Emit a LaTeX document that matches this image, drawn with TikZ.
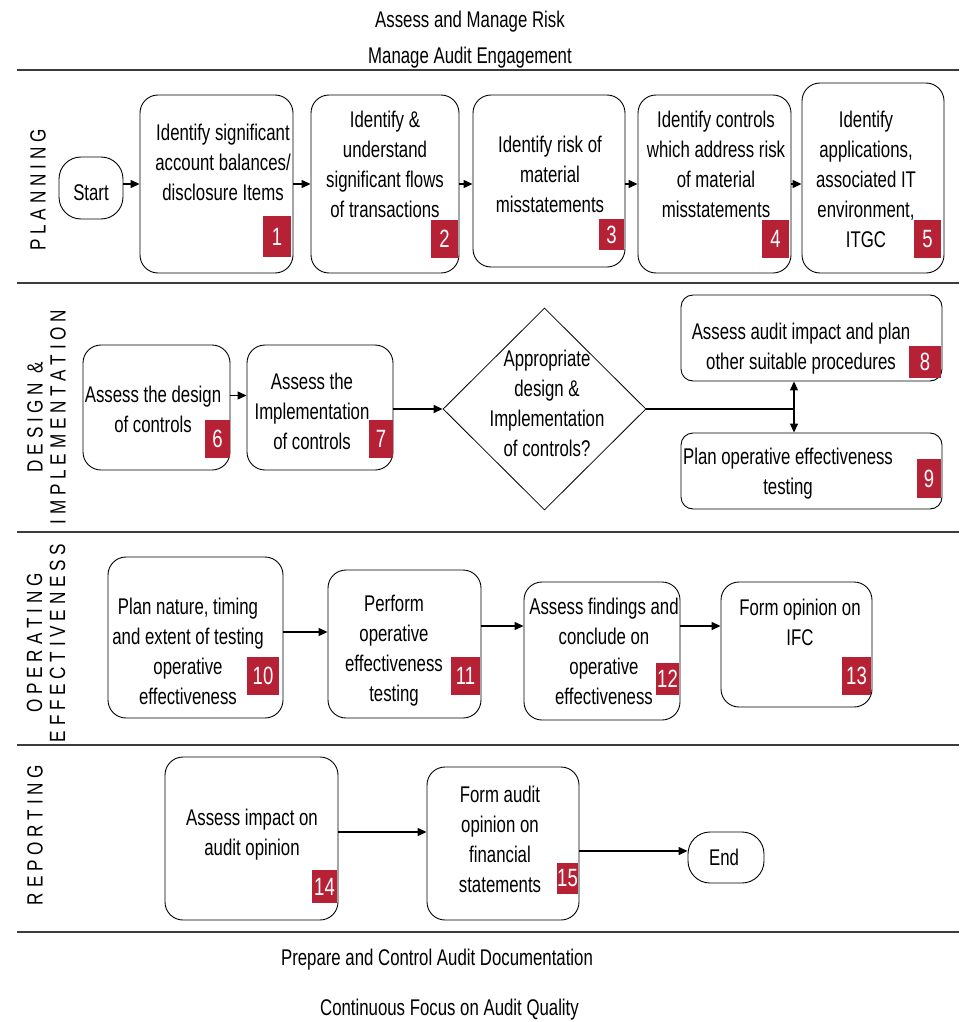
\documentclass[tikz,border=0pt]{standalone}
\usepackage{fontspec}
\setmainfont{Liberation Sans}[FakeStretch=0.74]
\newfontfamily\lanefont{Liberation Sans}[FakeStretch=0.78]
\usetikzlibrary{arrows.meta,shapes.geometric}
\definecolor{badgered}{RGB}{183,33,54}
\definecolor{sepgray}{RGB}{60,60,60}
\begin{document}
\begin{tikzpicture}[x=1pt,y=-1pt,
  box/.style={draw=black, line width=0.9pt, rounded corners=18pt, inner sep=0pt},
  smallbox/.style={box, rounded corners=12pt},
  term/.style={box, rounded corners=22pt},
  badge/.style={fill=badgered, text=white, inner sep=0pt, font=\fontsize{25}{25}\selectfont},
  txt/.style={align=center, inner sep=0pt, font=\fontsize{22.7}{30}\selectfont},
  lane/.style={rotate=90, align=center, inner sep=0pt, font=\lanefont\fontsize{22}{23}\selectfont},
  arr/.style={line width=1.3pt, -{Triangle[length=9pt,width=8pt]}},
  conn/.style={line width=1.1pt},
  sep/.style={draw=sepgray, line width=1.8pt}]
\useasboundingbox (0,0) rectangle (959,1022);

% headings
\node[txt] (h1) at (470,22) {Assess and Manage Risk};
\node[txt] (h2) at (470,58) {Manage Audit Engagement};
\node[txt] (f1) at (437,960) {Prepare and Control Audit Documentation};
\node[txt] (f2) at (449.5,1010) {Continuous Focus on Audit Quality};

% separators
\draw[sep] (17,70) -- (959,70);
\draw[sep] (17,283) -- (959,283);
\draw[sep] (17,532) -- (959,532);
\draw[sep] (17,745) -- (959,745);
\draw[sep] (17,932) -- (959,932);

% lane labels
\node[lane] (lp) at (38,190) {P L A N N I N G};
\node[lane] (ld) at (46.5,417) {D E S I G N~~\&\\I M P L E M E N T A T I O N};
\node[lane] (lo) at (46,643) {O P E R A T I N G\\E F F E C T I V E N E S S};
\node[lane] (lr) at (35,835) {R E P O R T I N G};

% planning
\node[term, minimum width=64pt, minimum height=62pt] (s) at (91,188) {};
\node[txt] (ts) at (91,193) {Start};
\node[box, minimum width=153pt, minimum height=178pt] (b1) at (216.5,184) {};
\node[box, minimum width=148pt, minimum height=178pt] (b2) at (385,184) {};
\node[box, minimum width=152pt, minimum height=172pt] (b3) at (549,181) {};
\node[box, minimum width=153pt, minimum height=178pt] (b4) at (714.5,184) {};
\node[box, minimum width=142pt, minimum height=190pt] (b5) at (873,178) {};
\node[txt] (t1) at (223,162) {Identify significant\\account balances/\\disclosure Items};
\node[txt] (t2) at (385,164) {Identify \&\\understand\\significant flows\\of transactions};
\node[txt] (t3) at (550,174) {Identify risk of\\material\\misstatements};
\node[txt] (t4) at (716,164) {Identify controls\\which address risk\\of material\\misstatements};
\node[txt] (t5) at (866,179) {Identify\\applications,\\associated IT\\environment,\\ITGC};
\node[badge, minimum width=28pt, minimum height=41pt] (n1) at (277,236.5) {1};
\node[badge, minimum width=27pt, minimum height=38pt] (n2) at (444.5,239) {2};
\node[badge, minimum width=25pt, minimum height=31pt] (n3) at (611.5,234.5) {3};
\node[badge, minimum width=27pt, minimum height=38pt] (n4) at (775.5,239) {4};
\node[badge, minimum width=27pt, minimum height=38pt] (n5) at (927.5,239) {5};
\draw[arr] (s.east |- b1.west) -- (b1.west);
\draw[arr] (b1.east) -- (b2.west);
\draw[arr] (b2.east) -- (b2.east -| b3.west);
\draw[arr] (b3.east |- b4.west) -- (b4.west);
\draw[arr] (b4.east) -- (b4.east -| b5.west);

% design & implementation
\node[box, minimum width=147pt, minimum height=125pt] (b6) at (156.5,407.5) {};
\node[box, minimum width=146pt, minimum height=125pt] (b7) at (320,407.5) {};
\node[diamond, draw=black, line width=0.8pt, aspect=1, inner sep=0pt,
      minimum width=203pt, minimum height=202pt] (d) at (544.5,409) {};
\node[smallbox, minimum width=261pt, minimum height=86pt] (b8) at (811.5,338) {};
\node[smallbox, minimum width=261pt, minimum height=76pt] (b9) at (811.5,471) {};
\node[txt] (t6) at (153,409) {Assess the design\\of controls};
\node[txt] (t7) at (312,411) {Assess the\\Implementation\\of controls};
\node[txt] (td) at (547,403.5) {Appropriate\\design \&\\Implementation\\of controls?};
\node[txt] (t8) at (801,348.5) {Assess audit impact and plan\\other suitable procedures};
\node[txt] (t9) at (788,474) {Plan operative effectiveness\\testing};
\node[badge, minimum width=25pt, minimum height=38pt] (n6) at (217.5,439) {6};
\node[badge, minimum width=24pt, minimum height=38pt] (n7) at (381,439) {7};
\node[badge, minimum width=32pt, minimum height=32pt] (n8) at (925,362) {8};
\node[badge, minimum width=24pt, minimum height=39pt] (n9) at (929,478.5) {9};
\coordinate (j) at (794,409);
\draw[arr] ([yshift=12pt]b6.east) -- ([yshift=12pt]b7.west);
\draw[arr] (b7.east |- d.west) -- (d.west);
\draw[conn] (d.east) -- (j);
\draw[arr] (j) -- (j |- b8.south);
\draw[arr] (j) -- (j |- b9.north);

% operating effectiveness
\node[box, minimum width=175pt, minimum height=161pt] (b10) at (195.5,637.5) {};
\node[box, minimum width=153pt, minimum height=148pt] (b11) at (404.5,644) {};
\node[box, minimum width=156pt, minimum height=138pt] (b12) at (602,651) {};
\node[box, minimum width=151pt, minimum height=125pt] (b13) at (796.5,644.5) {};
\node[txt] (t10) at (188,651) {Plan nature, timing\\and extent of testing\\operative\\effectiveness};
\node[txt] (t11) at (394,651) {Perform\\operative\\effectiveness\\testing};
\node[txt] (t12) at (604,651) {Assess findings and\\conclude on\\operative\\effectiveness};
\node[txt] (t13) at (800,622) {Form opinion on\\IFC};
\node[badge, minimum width=32pt, minimum height=38pt] (n10) at (263,676) {10};
\node[badge, minimum width=29pt, minimum height=38pt] (n11) at (465.5,676) {11};
\node[badge, minimum width=23pt, minimum height=32pt] (n12) at (667.5,679) {12};
\node[badge, minimum width=29pt, minimum height=38pt] (n13) at (856.5,676) {13};
\draw[arr] ([yshift=5.5pt]b10.east) -- ([yshift=5.5pt]b10.east -| b11.west);
\draw[arr] ([yshift=18pt]b11.east) -- ([yshift=18pt]b11.east -| b12.west);
\draw[arr] ([yshift=25pt]b12.east) -- ([yshift=25pt]b12.east -| b13.west);

% reporting
\node[box, minimum width=173pt, minimum height=163pt] (b14) at (251.5,838.5) {};
\node[box, minimum width=152pt, minimum height=153pt] (b15) at (503,843.5) {};
\node[term, minimum width=76pt, minimum height=51pt] (e) at (726,857.5) {};
\node[txt] (t14) at (252,835) {Assess impact on\\audit opinion};
\node[txt] (t15) at (500,839) {Form audit\\opinion on\\financial\\statements};
\node[txt] (te) at (724,857) {End};
\node[badge, minimum width=25pt, minimum height=33pt] (n14) at (324.5,886.5) {14};
\node[badge, minimum width=21pt, minimum height=31pt] (n15) at (567.5,878.5) {15};
\draw[arr] ([yshift=6.5pt]b14.east) -- ([yshift=6.5pt]b14.east -| b15.west);
\draw[arr] ([yshift=-7.5pt]b15.east) -- ([yshift=-7.5pt]b15.east -| e.west);
\end{tikzpicture}
\end{document}
